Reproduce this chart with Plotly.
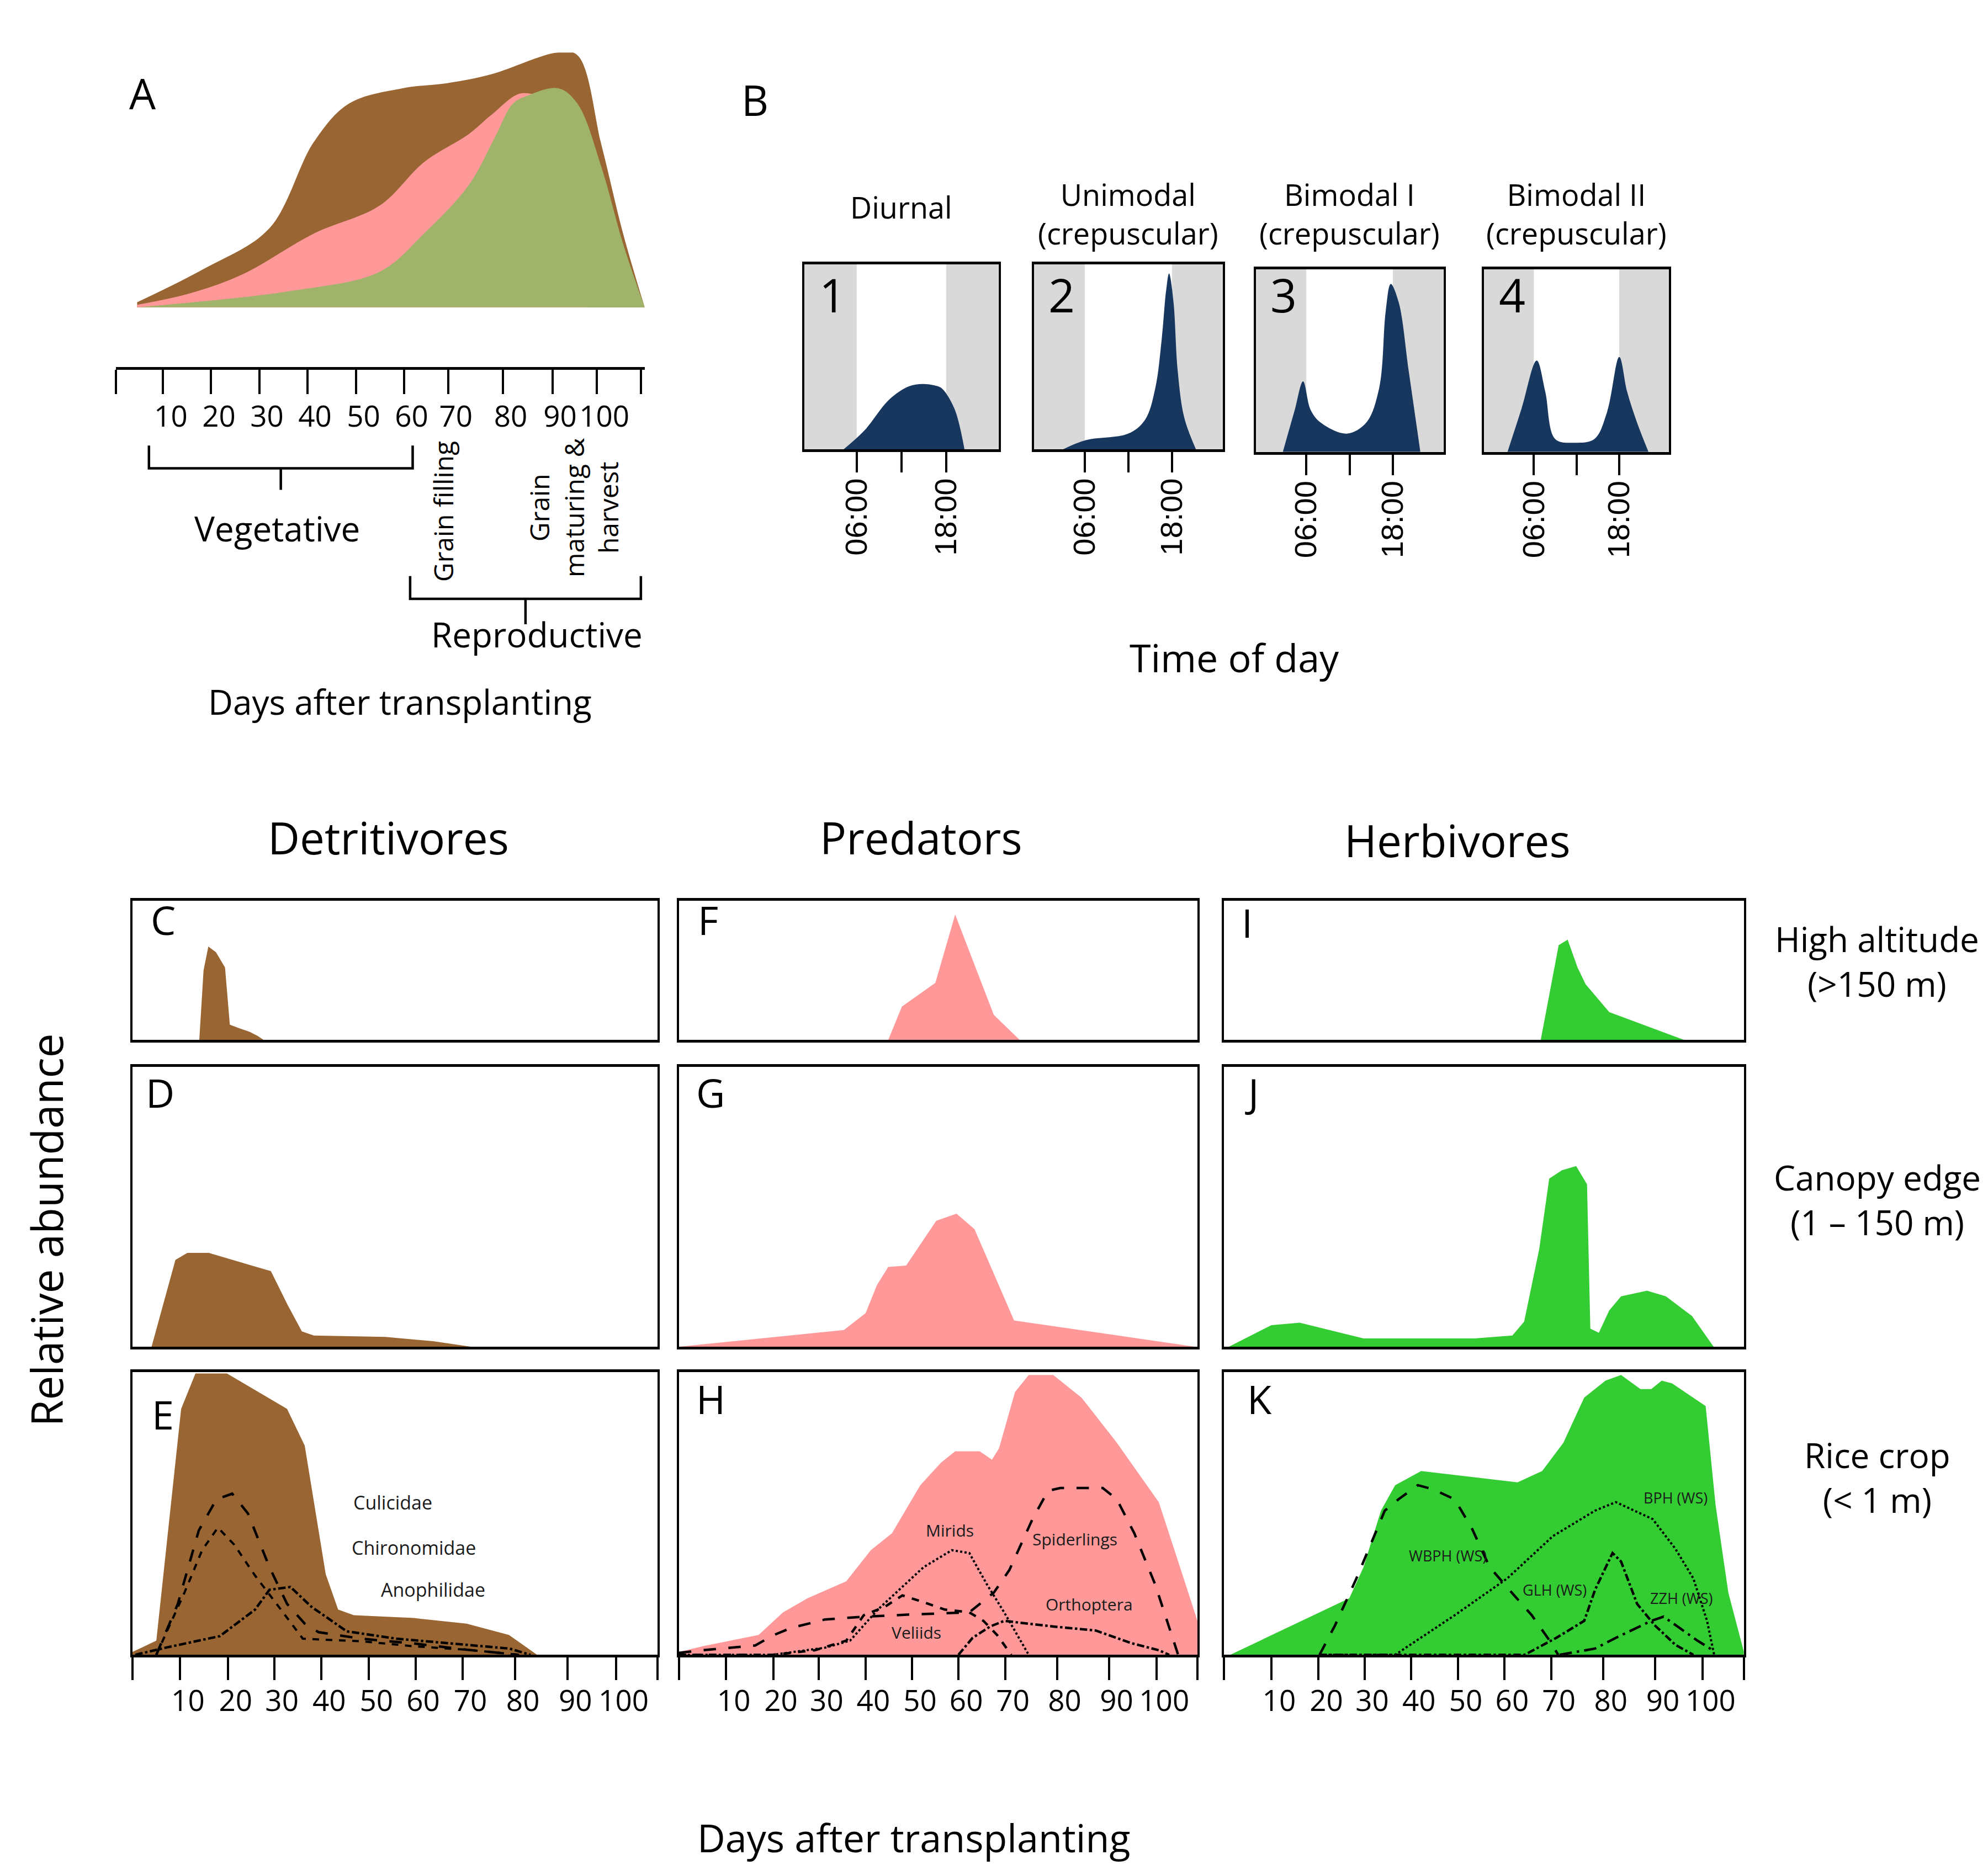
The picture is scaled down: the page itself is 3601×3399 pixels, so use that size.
import plotly.graph_objects as go

# ---------------- data ----------------
# A: crop development schematic (days after transplanting, relative height)
a_brown_days = [4.4, 18.2, 31.9, 41.2, 48.5, 59.6, 68.9, 78.1, 91.8, 96.0, 101.1, 105.5, 110]
a_brown_h = [0.02, 0.15, 0.31, 0.65, 0.80, 0.86, 0.88, 0.915, 1.0, 0.99, 0.63, 0.29, 0]
a_pink_days = [4.4, 15.4, 26.4, 41.2, 54.9, 64.1, 73.4, 78.1, 84.4, 90, 95, 98]
a_pink_h = [0.01, 0.055, 0.13, 0.29, 0.40, 0.57, 0.68, 0.755, 0.84, 0.80, 0.5, 0]
a_olive_days = [4.4, 36.7, 54.9, 64.1, 73.4, 78.9, 82.6, 85.5, 92, 96, 101, 105.5, 110]
a_olive_h = [0, 0.065, 0.14, 0.29, 0.48, 0.67, 0.80, 0.83, 0.86, 0.80, 0.55, 0.25, 0]
a_tick_days = [0, 9.8, 19.8, 29.8, 39.8, 49.9, 59.9, 69.1, 80.5, 90.8, 100, 109.2]
a_tick_labels = ["", "10", "20", "30", "40", "50", "60", "70", "80", "90", "100", ""]

# B: diel activity patterns (hour of day, relative activity)
b_titles = ["Diurnal", "Unimodal<br>(crepuscular)", "Bimodal I<br>(crepuscular)", "Bimodal II<br>(crepuscular)"]
b1_t = [4.25, 7.0, 10.4, 13.0, 14.8, 16.5, 17.4, 19.1, 20.45]
b1_h = [0.0, 0.10, 0.27, 0.34, 0.353, 0.345, 0.33, 0.22, 0.0]
b2_t = [3.0, 6.2, 12.0, 14.3, 15.7, 16.6, 17.2, 17.6, 18.2, 18.8, 19.7, 21.3]
b2_h = [0.0, 0.05, 0.085, 0.16, 0.33, 0.60, 0.86, 0.95, 0.80, 0.42, 0.17, 0.0]
b3_t = [2.75, 4.4, 5.55, 6.6, 8.0, 11.6, 14.3, 16.1, 17.0, 17.7, 18.8, 20.2, 21.8]
b3_h = [0.0, 0.23, 0.386, 0.23, 0.16, 0.10, 0.16, 0.35, 0.77, 0.92, 0.82, 0.44, 0.0]
b4_t = [2.3, 4.3, 6.4, 7.6, 9.0, 11.7, 14.5, 16.3, 18.0, 19.1, 20.5, 22.1]
b4_h = [0.0, 0.24, 0.50, 0.33, 0.07, 0.05, 0.07, 0.22, 0.52, 0.33, 0.16, 0.0]
b_tick_hours = [6, 12, 18]
b_tick_labels = ["06:00", "", "18:00"]

# C-K: relative abundance by days after transplanting
c_days = [14.0, 14.9, 15.9, 17.5, 19.4, 20.4, 22.3, 24.5, 26.2, 27.5]
c_h = [0, 0.5, 0.67, 0.63, 0.52, 0.11, 0.085, 0.06, 0.03, 0]
f_days = [44.4, 47.3, 54.4, 58.6, 66.8, 72.3]
f_h = [0, 0.24, 0.41, 0.90, 0.18, 0]
i_days = [67, 70.8, 72.7, 74.8, 76.5, 81.5, 97.4]
i_h = [0, 0.68, 0.72, 0.52, 0.40, 0.2, 0]

d_days = [4, 9, 11.5, 16, 25, 29, 32.5, 35.5, 38, 53, 63, 71]
d_h = [0, 0.31, 0.335, 0.335, 0.29, 0.27, 0.15, 0.055, 0.04, 0.035, 0.02, 0]
g_days = [0, 35, 39.6, 42, 44.4, 48.2, 54.6, 58.9, 62.7, 71.1, 109.5]
g_h = [0, 0.06, 0.12, 0.22, 0.285, 0.29, 0.45, 0.475, 0.42, 0.094, 0]
j_days = [1, 10, 16, 29.5, 53, 61, 63.5, 66.7, 68.8, 71.5, 74.5, 76.8, 77.5, 79.3, 81.5, 84, 89.5, 93.5, 99, 103.6]
j_h = [0, 0.077, 0.086, 0.03, 0.03, 0.04, 0.09, 0.35, 0.6, 0.63, 0.645, 0.58, 0.065, 0.05, 0.13, 0.18, 0.2, 0.18, 0.11, 0]

e_days = [0, 5.0, 10.2, 13.2, 19.8, 32.4, 36.1, 40.5, 43.1, 46.4, 59, 70, 78.9, 84.8]
e_h = [0.01, 0.05, 0.87, 0.995, 0.995, 0.87, 0.74, 0.285, 0.16, 0.14, 0.13, 0.11, 0.07, 0]
culicidae_days = [5, 9.5, 13.9, 17.6, 20.9, 24.2, 28.7, 32.4, 36.1, 39, 47.9, 59, 70, 81]
culicidae_h = [0, 0.18, 0.44, 0.55, 0.57, 0.50, 0.31, 0.18, 0.11, 0.08, 0.057, 0.04, 0.018, 0]
chironomidae_days = [5, 10.9, 14.6, 17.9, 21.3, 25.7, 30.2, 35.7, 40.5, 47.9, 59, 70, 81]
chironomidae_h = [0, 0.22, 0.37, 0.45, 0.39, 0.28, 0.18, 0.057, 0.053, 0.048, 0.03, 0.018, 0]
anophilidae_days = [0.6, 7.2, 18.3, 25.7, 28.7, 33.1, 37.5, 44.9, 55.3, 66.4, 79, 83.4]
anophilidae_h = [0, 0.026, 0.066, 0.16, 0.23, 0.24, 0.17, 0.083, 0.057, 0.04, 0.022, 0]

h_days = [0, 5, 16.9, 22.1, 27.3, 35.5, 40.7, 45.2, 51.2, 55.6, 58.6, 63.8, 66.4, 67.9, 71.3, 74.2,
          79.4, 85.4, 92.9, 101.8, 106.3, 110]
h_h = [0.01, 0.03, 0.07, 0.15, 0.2, 0.26, 0.37, 0.43, 0.60, 0.68, 0.72, 0.72, 0.69, 0.73, 0.93, 0.99,
       0.99, 0.91, 0.75, 0.54, 0.31, 0.12]
mirids_days = [0, 19.9, 31, 36.3, 42.2, 46.7, 51.9, 57.9, 61.6, 65.3, 69, 74.2]
mirids_h = [0, 0, 0.025, 0.05, 0.16, 0.23, 0.31, 0.37, 0.36, 0.25, 0.15, 0]
veliids_days = [0, 19.9, 28.8, 35.5, 39.2, 43.7, 47.4, 51.2, 56.4, 61.6, 64.6, 67.5, 70.5]
veliids_h = [0, 0, 0.016, 0.05, 0.14, 0.17, 0.21, 0.19, 0.16, 0.15, 0.12, 0.07, 0]
spiderlings_days = [0, 5, 16.2, 19.9, 23.6, 31, 38.5, 49.7, 61.6, 66.8, 70.1, 72, 75, 78.3, 80.9,
                    89.9, 92.9, 96.6, 101, 105.9]
spiderlings_h = [0.007, 0.016, 0.033, 0.068, 0.094, 0.125, 0.134, 0.143, 0.15, 0.22, 0.30, 0.37, 0.48,
                 0.58, 0.59, 0.59, 0.55, 0.43, 0.25, 0.0]
orthoptera_days = [59.3, 62.3, 66, 69, 79.4, 88.4, 95.8, 101.8, 104]
orthoptera_h = [0, 0.06, 0.10, 0.12, 0.10, 0.086, 0.042, 0.016, 0]

k_days = [1.3, 26.5, 29.5, 33.2, 36.2, 41.7, 62.1, 67.3, 71.8, 76.2, 80.7, 84, 88.1, 90.4, 92.6,
          94.8, 101.9, 104, 106.7, 110]
k_h = [0, 0.20, 0.31, 0.51, 0.60, 0.65, 0.61, 0.65, 0.75, 0.91, 0.97, 0.99, 0.94, 0.94, 0.97,
       0.96, 0.88, 0.53, 0.22, 0.01]
wbph_days = [20.2, 23.5, 28, 31, 34, 36.9, 41, 44.3, 48.8, 52.5, 56.2, 61.4, 65.1, 68.8, 70.7]
wbph_h = [0, 0.105, 0.27, 0.39, 0.51, 0.55, 0.60, 0.585, 0.55, 0.445, 0.31, 0.21, 0.14, 0.052, 0]
bph_days = [20.2, 36.2, 48.8, 59.9, 69.6, 78.5, 82.9, 90.7, 95.5, 99.3, 102.2, 103.7]
bph_h = [0, 0, 0.14, 0.27, 0.42, 0.51, 0.54, 0.48, 0.375, 0.27, 0.12, 0]
glh_days = [20.2, 63.6, 70.3, 76.2, 78.5, 82.2, 84, 87.4, 91.1, 95.5, 99.3]
glh_h = [0, 0, 0.06, 0.12, 0.23, 0.36, 0.33, 0.18, 0.105, 0.035, 0]
zzh_days = [71, 78.5, 82.9, 90.4, 93, 95.5, 100, 103.7]
zzh_h = [0, 0.022, 0.06, 0.12, 0.135, 0.105, 0.052, 0.013]

day_tick_vals = [0, 10, 20, 29.7, 39.6, 49.5, 59.3, 69.2, 80.2, 91.2, 101.3, 110]
day_tick_text = ["", "10", "20", "30", "40", "50", "60", "70", "80", "90", "100", ""]

# ---------------- styling ----------------
FONT = "Open Sans"
BROWN = "#996633"
PINK = "#ff9999"
GREEN = "#33cc33"
OLIVE = "#a0b36a"
NAVY = "#17375e"
NIGHT = "#d9d9d9"

W, H = 3601, 3399
RW, RH = 1568.0, 1480.0   # reference layout grid


def px(x):
    return x / RW


def py(y):
    return 1 - y / RH


fig = go.Figure()
layout = {}


def axes(n, xdom, ydom, xr, yr, frame=True, **xextra):
    sfx = "" if n == 1 else str(n)
    xa = dict(domain=[px(xdom[0]), px(xdom[1])], range=xr, showgrid=False, zeroline=False,
              showline=frame, mirror=frame, linecolor="black", linewidth=5, ticks="",
              showticklabels=False, anchor="y" + sfx, fixedrange=True)
    xa.update(xextra)
    ya = dict(domain=[py(ydom[1]), py(ydom[0])], range=yr, showgrid=False, zeroline=False,
              showline=frame, mirror=frame, linecolor="black", linewidth=4, ticks="",
              showticklabels=False, anchor="x" + sfx, fixedrange=True)
    layout["xaxis" + sfx] = xa
    layout["yaxis" + sfx] = ya
    return "x" + sfx, "y" + sfx


def area(xs, ys, color, ax, shape="linear"):
    fig.add_trace(go.Scatter(x=xs, y=ys, mode="lines", fill="tozeroy", fillcolor=color,
                             line=dict(width=0, color=color, shape=shape),
                             xaxis=ax[0], yaxis=ax[1], hoverinfo="skip", showlegend=False))


def curve(xs, ys, dash, ax, width=4.5):
    fig.add_trace(go.Scatter(x=xs, y=ys, mode="lines", line=dict(color="black", width=width, dash=dash),
                             xaxis=ax[0], yaxis=ax[1], hoverinfo="skip", showlegend=False))


tick_font = dict(family=FONT, size=53, color="black")

# ---- A
axA = axes(1, (88, 505), (38, 286), [0, 110], [-0.234, 1.0], frame=False,
           showline=True, mirror=False, linewidth=5, ticks="outside", ticklen=44, tickwidth=4,
           tickcolor="black", tickvals=a_tick_days, ticktext=a_tick_labels,
           showticklabels=True, tickfont=tick_font, ticklabelshift=14, ticklabelstandoff=-4)
layout["yaxis"]["visible"] = False
area(a_brown_days, a_brown_h, BROWN, axA, shape="spline")
area(a_pink_days, a_pink_h, PINK, axA, shape="spline")
area(a_olive_days, a_olive_h, OLIVE, axA, shape="spline")

# ---- B
b_boxes = [(631, 784, 205, 351), (812, 961, 205, 351), (987, 1135, 209, 353), (1167, 1313, 209, 353)]
b_series = [(b1_t, b1_h), (b2_t, b2_h), (b3_t, b3_h), (b4_t, b4_h)]
shapes = []
annotations = []
for k, (box, (bt, bh)) in enumerate(zip(b_boxes, b_series)):
    ax = axes(2 + k, (box[0], box[1]), (box[2], box[3]), [-1, 25], [0, 1],
              ticks="outside", ticklen=37, tickwidth=4, tickcolor="black",
              tickvals=b_tick_hours, ticktext=b_tick_labels, tickangle=-90,
              showticklabels=True, ticklabelstandoff=-12,
              tickfont=dict(family="Liberation Sans", size=56, color="black"))
    for x0, x1 in [(-1, 6), (18, 25)]:
        shapes.append(dict(type="rect", xref=ax[0], yref=ax[1], x0=x0, x1=x1, y0=0, y1=1,
                           fillcolor=NIGHT, line=dict(width=0), layer="below"))
    area(bt, bh, NAVY, ax, shape="spline")
    cx = (box[0] + box[1]) / 2
    annotations.append(dict(text=b_titles[k], x=px(cx), y=py(165 if k else 160), xref="paper", yref="paper",
                            showarrow=False, font=dict(family=FONT, size=54, color="black"),
                            xanchor="center", yanchor="middle"))
    annotations.append(dict(text=str(k + 1), x=px(box[0] + 22), y=py(229), xref="paper", yref="paper",
                            showarrow=False, font=dict(family=FONT, size=84, color="black"),
                            xanchor="center", yanchor="middle"))

# ---- C-K
cols = [(101, 515), (532, 941), (962, 1372)]
rows = [(707, 817), (838, 1059), (1079, 1302)]
panel_areas = [
    [(c_days, c_h, BROWN), (f_days, f_h, PINK), (i_days, i_h, GREEN)],
    [(d_days, d_h, BROWN), (g_days, g_h, PINK), (j_days, j_h, GREEN)],
    [(e_days, e_h, BROWN), (h_days, h_h, PINK), (k_days, k_h, GREEN)],
]
letters = [["C", "F", "I"], ["D", "G", "J"], ["E", "H", "K"]]
letter_pos = [[(125, 722), (555, 722), (980, 724)],
              [(123, 858), (557, 858), (984, 858)],
              [(125, 1112), (557, 1100), (990, 1100)]]
ax_grid = {}
n = 6
for r, rowb in enumerate(rows):
    for c, colb in enumerate(cols):
        extra = {}
        if r == 2:
            extra = dict(ticks="outside", ticklen=41, tickwidth=4, tickcolor="black",
                         tickvals=day_tick_vals, ticktext=day_tick_text, showticklabels=True,
                         tickfont=tick_font, ticklabelshift=14, ticklabelstandoff=-8)
        ax = axes(n, colb, rowb, [0, 110], [0, 1], **extra)
        ax_grid[(r, c)] = ax
        xs, ys, colr = panel_areas[r][c]
        area(xs, ys, colr, ax)
        lx, ly = letter_pos[r][c]
        annotations.append(dict(text=letters[r][c], x=px(lx), y=py(ly), xref="paper", yref="paper",
                                showarrow=False, font=dict(family=FONT, size=72, color="black"),
                                xanchor="center", yanchor="middle"))
        n += 1

# taxa curves in E, H, K
axE, axH, axK = ax_grid[(2, 0)], ax_grid[(2, 1)], ax_grid[(2, 2)]
curve(culicidae_days, culicidae_h, "longdash", axE)
curve(chironomidae_days, chironomidae_h, "dash", axE, width=4)
curve(anophilidae_days, anophilidae_h, "dashdot", axE)
curve(mirids_days, mirids_h, "dot", axH, width=4)
curve(veliids_days, veliids_h, "dash", axH)
curve(spiderlings_days, spiderlings_h, "longdash", axH)
curve(orthoptera_days, orthoptera_h, "dashdot", axH)
curve(wbph_days, wbph_h, "longdash", axK)
curve(bph_days, bph_h, "dot", axK, width=4)
curve(glh_days, glh_h, "dashdot", axK)
curve(zzh_days, zzh_h, "longdashdot", axK)

taxa_labels = [
    (axE, "Culicidae", 54.5, 0.54, 34), (axE, "Chironomidae", 59, 0.38, 34), (axE, "Anophilidae", 63, 0.23, 34),
    (axH, "Mirids", 57.5, 0.44, 30), (axH, "Spiderlings", 84, 0.41, 30),
    (axH, "Orthoptera", 87, 0.18, 30), (axH, "Veliids", 50.4, 0.08, 30),
    (axK, "WBPH (WS)", 47.3, 0.35, 27), (axK, "BPH (WS)", 95.5, 0.555, 27),
    (axK, "GLH (WS)", 70, 0.23, 27), (axK, "ZZH (WS)", 96.7, 0.2, 27),
]
for ax, txt, x, y, sz in taxa_labels:
    annotations.append(dict(text=txt, x=x, y=y, xref=ax[0], yref=ax[1], showarrow=False,
                            font=dict(family=FONT, size=sz, color="#1a1a1a"),
                            xanchor="center", yanchor="middle"))

# ---- free text
texts = [
    ("A", 109, 70, 76, 0), ("B", 592, 75, 76, 0),
    ("Days after transplanting", 312, 550, 62, 0),
    ("Vegetative", 215, 413, 62, 0), ("Reproductive", 420, 497, 62, 0),
    ("Grain filling", 346, 400, 48, -90),
    ("Grain<br>maturing &amp;<br>harvest", 449, 397, 48, -90),
    ("Time of day", 970, 515, 70, 0),
    ("Detritivores", 303, 657, 80, 0), ("Predators", 723, 657, 80, 0), ("Herbivores", 1146, 659, 80, 0),
    ("High altitude<br>(&gt;150 m)", 1477, 755, 62, 0),
    ("Canopy edge<br>(1 \u2013 150 m)", 1477, 943, 62, 0),
    ("Rice crop<br>(&lt; 1 m)", 1477, 1162, 62, 0),
    ("Relative abundance", 33, 967, 78, -90),
    ("Days after transplanting", 717, 1446, 70, 0),
]
for txt, x, y, sz, ang in texts:
    annotations.append(dict(text=txt, x=px(x), y=py(y), xref="paper", yref="paper", showarrow=False,
                            textangle=ang, align="center",
                            font=dict(family=FONT, size=sz, color="black"),
                            xanchor="center", yanchor="middle"))


# ---- stage braces under panel A
def brace(x0, x1, ytop, ybar, ytip):
    xm = (x0 + x1) / 2
    pts = [(x0, ytop), (x0, ybar), (xm, ybar), (xm, ytip), (xm, ybar), (x1, ybar), (x1, ytop)]
    path = "M " + " L ".join(f"{px(a):.5f},{py(b):.5f}" for a, b in pts)
    return dict(type="path", path=path, xref="paper", yref="paper",
                line=dict(color="black", width=4.5))


shapes.append(brace(114, 322, 348, 366, 383))
shapes.append(brace(320, 502, 451, 469, 489))

layout.update(dict(
    width=W, height=H, margin=dict(l=0, r=0, t=0, b=0),
    paper_bgcolor="white", plot_bgcolor="white",
    shapes=shapes, annotations=annotations, showlegend=False,
    font=dict(family=FONT, color="black"),
))
fig.update_layout(**layout)
fig.write_html("out.html")
